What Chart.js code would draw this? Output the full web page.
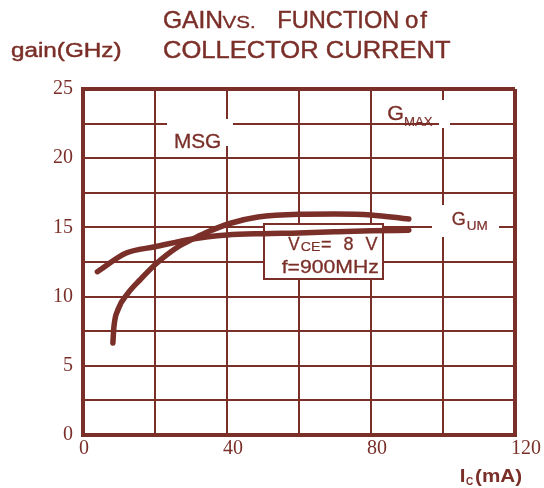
<!DOCTYPE html>
<html>
<head>
<meta charset="utf-8">
<script src="https://cdn.jsdelivr.net/npm/chart.js@4.4.1/dist/chart.umd.min.js"></script>
<style>
html,body{margin:0;padding:0;background:#ffffff;}
#wrap{position:relative;width:544px;height:488px;}
</style>
</head>
<body>
<div id="wrap"><canvas id="c"></canvas></div>
<script>
// ---- text content ----
const titleLine1 = ['GAIN', 'VS.', 'FUNCTION', 'of'];
const titleLine2 = 'COLLECTOR CURRENT';
const yAxisTitle = 'gain(GHz)';
const xAxisTitle = ['I', 'C', '(mA)'];
const condLine1 = ['V', 'CE', '= 8 V'];
const condLine2 = 'f=900MHz';
const labelMSG = 'MSG';
const labelGMAX = ['G', 'MAX'];
const labelGUM = ['G', 'UM'];

// ---- data (Ic in mA, gain) ----
const flatCurrent = [4, 12, 20, 30, 40, 50, 60, 70, 80, 90.5];
const flatGain    = [11.8, 13.15, 13.6, 14.15, 14.45, 14.55, 14.6, 14.68, 14.75, 14.8];
const steepCurrent = [8.3, 8.6, 9.7, 12.5, 15.8, 20, 26.4, 30, 33.8, 41, 48.6, 60, 70, 80, 90.5];
const steepGain    = [6.65, 7.85, 9.05, 10.25, 11.2, 12.3, 13.6, 14.1, 14.58, 15.3, 15.75, 15.95, 15.97, 15.9, 15.6];

// ---- tick labels ----
const xLabelValues = [0, 40, 80, 120];
const yLabelValues = [0, 5, 10, 15, 20, 25];

const BROWN = '#7b2f29';
const SANS = '"Liberation Sans", Arial, sans-serif';

function drawText(ctx, s, x, y, font, width, spacing, stroke) {
  ctx.save();
  ctx.font = font;
  ctx.textAlign = 'left';
  ctx.textBaseline = 'alphabetic';
  if (spacing) ctx.letterSpacing = spacing + 'px';
  const m = ctx.measureText(s);
  const ink = m.actualBoundingBoxRight + m.actualBoundingBoxLeft;
  const sx = width ? width / ink : 1;
  ctx.translate(x, y);
  ctx.scale(sx, 1);
  ctx.fillStyle = BROWN;
  ctx.fillText(s, m.actualBoundingBoxLeft, 0);
  const sw = stroke === undefined ? 0.3 : stroke;
  if (sw > 0) {
    ctx.strokeStyle = BROWN;
    ctx.lineWidth = sw;
    ctx.lineJoin = 'round';
    ctx.strokeText(s, m.actualBoundingBoxLeft, 0);
  }
  ctx.restore();
}

const annotations = {
  id: 'annotations',
  beforeDatasetsDraw(chart) {
    const ctx = chart.ctx;
    ctx.save();
    ctx.fillStyle = '#ffffff';
    ctx.fillRect(167, 119, 66, 27);
    ctx.fillRect(439, 100, 11, 28);
    ctx.fillRect(432, 205, 67, 32);
    ctx.fillRect(264, 224, 119, 55);
    ctx.strokeStyle = BROWN;
    ctx.lineWidth = 2;
    ctx.strokeRect(264, 224, 119, 55);
    ctx.restore();

    drawText(ctx, labelMSG, 175, 147.7, '20px ' + SANS, 45.7);
    drawText(ctx, labelGMAX[0], 388.3, 120, '20px ' + SANS, 15);
    drawText(ctx, labelGMAX[1], 405, 125.7, '12.5px ' + SANS, 28.3, 0, 0.2);
    drawText(ctx, labelGUM[0], 451.7, 225, '19px ' + SANS, 13.3);
    drawText(ctx, labelGUM[1], 466.7, 230, '12.5px ' + SANS, 20.6, 0, 0.2);

    drawText(ctx, condLine1[0], 288.3, 249.7, '17.5px ' + SANS, 11.7);
    drawText(ctx, condLine1[1], 300.7, 251.3, '12.5px ' + SANS, 19.3, 0, 0.2);
    drawText(ctx, condLine1[2], 321, 249.7, '18px ' + SANS, 0, 3.5);
    drawText(ctx, condLine2, 281.7, 273, '19px ' + SANS, 96.6);
  },
  afterDraw(chart) {
    const ctx = chart.ctx;
    drawText(ctx, titleLine1[0], 164, 27.7, '24px ' + SANS, 57.7, 0, 0.45);
    drawText(ctx, titleLine1[1], 222.5, 27.7, '16.5px ' + SANS, 32.5, 0, 0.35);
    drawText(ctx, titleLine1[2], 278.3, 27.7, '24px ' + SANS, 119.7, 0, 0.45);
    drawText(ctx, titleLine1[3], 406, 27.7, '24px ' + SANS, 0, 2, 0.45);
    drawText(ctx, titleLine2, 164, 58.3, '24px ' + SANS, 287, 0, 0.45);
    drawText(ctx, yAxisTitle, 11, 57.3, '20px ' + SANS, 109.7, 0, 0.45);
    drawText(ctx, xAxisTitle[0], 460.7, 482, 'bold 19px ' + SANS, 4.3, 0, 0);
    drawText(ctx, xAxisTitle[1], 466, 484.5, 'bold 11px ' + SANS, 7.3, 0, 0);
    drawText(ctx, xAxisTitle[2], 475, 482, 'bold 19px ' + SANS, 46.7, 0, 0);
  }
};

const lineStyle = {
  borderColor: BROWN,
  backgroundColor: BROWN,
  borderWidth: 5.5,
  pointRadius: 0,
  cubicInterpolationMode: 'monotone',
  borderCapStyle: 'round',
  borderJoinStyle: 'round',
  fill: false
};

const edgeWidth = (edgeVals) => (c) => (c.tick && edgeVals.includes(c.tick.value)) ? 4 : 2;

new Chart(document.getElementById('c'), {
  type: 'line',
  data: {
    datasets: [
      Object.assign({ label: 'steep', data: steepCurrent.map((x, i) => ({ x: x, y: steepGain[i] })) }, lineStyle),
      Object.assign({ label: 'flat', data: flatCurrent.map((x, i) => ({ x: x, y: flatGain[i] })) }, lineStyle)
    ]
  },
  options: {
    responsive: true,
    maintainAspectRatio: false,
    animation: false,
    layout: { padding: { top: 89, right: 29, bottom: 0, left: 0 } },
    plugins: { legend: { display: false }, tooltip: { enabled: false }, title: { display: false } },
    scales: {
      x: {
        type: 'linear', min: 0, max: 120, position: 'bottom',
        ticks: {
          stepSize: 20, autoSkip: false, maxRotation: 0, minRotation: 0,
          align: 'start', labelOffset: -4, padding: 2, color: BROWN,
          font: { family: 'Liberation Serif', size: 20 },
          callback: (v) => xLabelValues.includes(v) ? String(v) : ''
        },
        grid: { color: BROWN, lineWidth: edgeWidth([0, 120]), drawTicks: false },
        border: { display: true, color: BROWN, width: 4 },
        afterFit: (s) => { s.height = 53; s.paddingLeft = 0; s.paddingRight = 0; }
      },
      y: {
        type: 'linear', min: 0, max: 25, position: 'left',
        ticks: {
          stepSize: 2.5, autoSkip: false, padding: 10, color: BROWN,
          font: { family: 'Liberation Serif', size: 20 },
          callback: (v) => yLabelValues.includes(v) ? String(v) : ''
        },
        grid: { color: BROWN, lineWidth: edgeWidth([0, 25]), drawTicks: false },
        border: { display: true, color: BROWN, width: 4 },
        afterFit: (s) => { s.width = 83; s.paddingTop = 0; s.paddingBottom = 0; }
      }
    }
  },
  plugins: [annotations]
});
</script>
</body>
</html>
